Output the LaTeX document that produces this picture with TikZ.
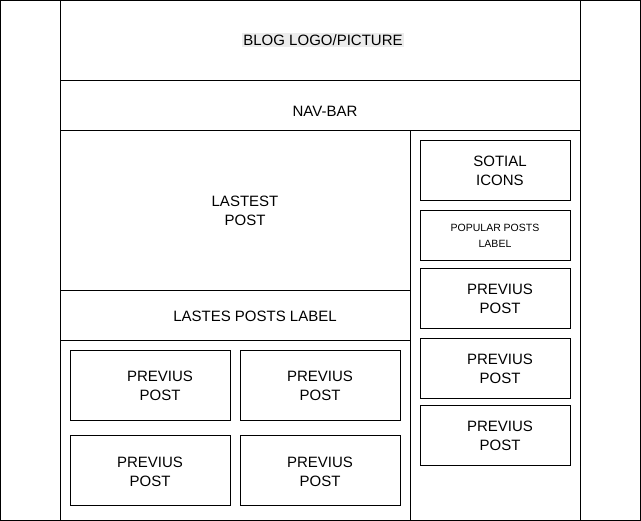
\documentclass[tikz,border=0pt]{standalone}
\usepackage{fontspec}
\setmainfont{Liberation Sans}
\usetikzlibrary{positioning}
\tikzset{box/.style = {draw=black, line width=0.8pt}}
\tikzset{lbl/.style = {align=center, font=\fontsize{15}{19}\selectfont, inner sep=1pt}}
\begin{document}
\begin{tikzpicture}[x=1pt, y=-1pt]
\useasboundingbox (0,0) rectangle (641,521);
% page frame and columns
\draw [box] (0.5,0.5) rectangle (640.5,520.5);
\draw [box] (60.5,0.5) rectangle (580.5,520.5);
\draw [box] (60.5,0.5) rectangle (580.5,80.5);
\draw [box] (60.5,80.5) rectangle (580.5,130.5);
\draw [box] (60.5,130.5) rectangle (410.5,290.5);
\draw [box] (60.5,290.5) rectangle (410.5,340.5);
\draw [box] (410.5,130.5) -- (410.5,520.5);
% right column boxes
\draw [box] (420.5,140.5) rectangle (570.5,200.5);
\draw [box] (420.5,210.5) rectangle (570.5,260.5);
\draw [box] (420.5,268.5) rectangle (570.5,328.5);
\draw [box] (420.5,338.5) rectangle (570.5,398.5);
\draw [box] (420.5,405.5) rectangle (570.5,465.5);
% bottom grid
\draw [box] (70.5,350.5) rectangle (230.5,420.5);
\draw [box] (240.5,350.5) rectangle (400.5,420.5);
\draw [box] (70.5,435.5) rectangle (230.5,505.5);
\draw [box] (240.5,435.5) rectangle (400.5,505.5);
% texts
\node [lbl, fill={rgb,255:red,236;green,236;blue,236}] (logo) at (323,40) {BLOG LOGO/PICTURE};
\node [lbl] (nav) at (325,111) {NAV-BAR};
\node [lbl] (latest) at (245,211) {LASTEST\\POST};
\node [lbl] (lplabel) at (255,316) {LASTES POSTS LABEL};
\node [lbl] (social) at (500,171) {SOTIAL\\ICONS};
\node [lbl, font=\fontsize{10.5}{16}\selectfont] (popular) at (495,236) {POPULAR POSTS\\LABEL};
\node [lbl] (prevA) at (500,299) {PREVIUS\\POST};
\node [lbl] (prevB) at (500,369) {PREVIUS\\POST};
\node [lbl] (prevC) at (500,436) {PREVIUS\\POST};
\node [lbl] (prevD) at (160,386) {PREVIUS\\POST};
\node [lbl] (prevE) at (320,386) {PREVIUS\\POST};
\node [lbl] (prevF) at (150,472) {PREVIUS\\POST};
\node [lbl] (prevG) at (320,472) {PREVIUS\\POST};
\end{tikzpicture}
\end{document}
